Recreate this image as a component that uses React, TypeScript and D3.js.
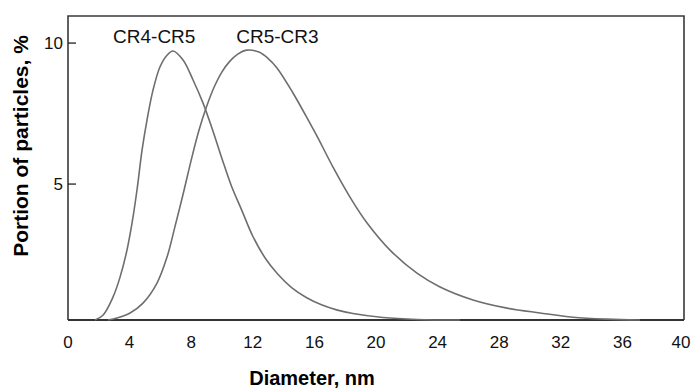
import { useMemo } from "react";
import * as d3 from "d3";

// diameter (nm) vs portion of particles (%)
const cr4cr5X = [1.75, 2.27, 2.92, 3.38, 3.83, 4.16, 4.48, 4.81, 5.13, 5.52, 5.97, 6.43, 6.82, 7.47, 8.12, 8.77, 9.4, 10.0, 10.6, 11.3, 12.0, 12.8, 13.6, 14.5, 15.5, 16.5, 17.5, 18.5, 20.45, 22.66, 25.45];
const cr4cr5Y = [0.18, 0.35, 0.99, 1.7, 2.66, 3.62, 4.79, 6.21, 7.27, 8.33, 9.15, 9.57, 9.72, 9.4, 8.69, 7.87, 6.9, 5.9, 4.95, 4.05, 3.15, 2.38, 1.82, 1.34, 0.97, 0.71, 0.53, 0.41, 0.27, 0.2, 0.18];
const cr5cr3X = [2.6, 3.18, 4.03, 4.87, 5.78, 6.43, 6.95, 7.5, 8.0, 8.5, 9.0, 9.5, 10.0, 10.5, 11.0, 11.6, 12.4, 13.0, 13.57, 14.61, 15.71, 16.17, 17.21, 18.31, 19.42, 20.91, 22.66, 24.16, 26.3, 28.51, 30.65, 32.79, 35.0, 37.14];
const cr5cr3Y = [0.18, 0.25, 0.43, 0.78, 1.49, 2.41, 3.5, 4.7, 5.85, 6.9, 7.75, 8.45, 8.98, 9.35, 9.6, 9.75, 9.68, 9.45, 9.12, 8.23, 7.16, 6.7, 5.6, 4.54, 3.62, 2.66, 1.84, 1.35, 0.89, 0.6, 0.43, 0.28, 0.21, 0.18];

const xTicks = [0, 4, 8, 12, 16, 20, 24, 28, 32, 36, 40];
const yTicks = [5, 10];
const seriesLabels = [
  { name: "CR4-CR5", x: 5.6, y: 10.02 },
  { name: "CR5-CR3", x: 13.6, y: 10.02 },
];

const W = 692;
const H = 388;
const left = 68;
const right = 684;
const top = 16;
const bottom = 320;
const font = "'Liberation Sans', Arial, sans-serif";

export default function App() {
  const x = d3.scaleLinear().domain([0, 40]).range([left, right]);
  const y = d3.scaleLinear().domain([0.18, 10.96]).range([bottom, top]);

  const paths = useMemo(() => {
    const line = d3
      .line<[number, number]>()
      .x((d) => x(d[0]))
      .y((d) => y(d[1]))
      .curve(d3.curveCatmullRom.alpha(0.5));
    return [
      line(cr4cr5X.map((v, i) => [v, cr4cr5Y[i]] as [number, number])),
      line(cr5cr3X.map((v, i) => [v, cr5cr3Y[i]] as [number, number])),
    ];
  }, []);

  return (
    <svg width={W} height={H} style={{ position: "absolute", left: 0, top: 0, background: "#fff" }} fontFamily={font}>
      {/* frame */}
      <path d={`M${left},${bottom} V${top} H${right} V${bottom}`} fill="none" stroke="#3a3a3a" strokeWidth={1.6} />
      <line x1={left} x2={right} y1={bottom} y2={bottom} stroke="#333" strokeWidth={2.2} />

      {/* y ticks, pointing inward */}
      {yTicks.map((t) => (
        <g key={t}>
          <line x1={left} x2={left + 8} y1={y(t)} y2={y(t)} stroke="#222" strokeWidth={1.3} />
          <text x={left - 5} y={y(t)} dy="0.35em" textAnchor="end" fontSize={17} fill="#111">
            {t}
          </text>
        </g>
      ))}

      {xTicks.map((t, i) => (
        <text key={t} x={x(t)} dx={i === xTicks.length - 1 ? -3 : 0} y={348} textAnchor="middle" fontSize={17} fill="#111">
          {t}
        </text>
      ))}

      {paths.map((d, i) => (
        <path key={i} d={d ?? ""} fill="none" stroke="#6e6e6e" strokeWidth={1.6} />
      ))}

      {seriesLabels.map((s) => (
        <text key={s.name} x={x(s.x)} y={y(s.y)} textAnchor="middle" fontSize={19} fill="#111">
          {s.name}
        </text>
      ))}

      <text x={312} y={385} textAnchor="middle" fontSize={20} fontWeight="bold" fill="#000">
        Diameter, nm
      </text>
      <text transform="translate(28,146) rotate(-90)" textAnchor="middle" fontSize={21} fontWeight="bold" fill="#000">
        Portion of particles, %
      </text>
    </svg>
  );
}
